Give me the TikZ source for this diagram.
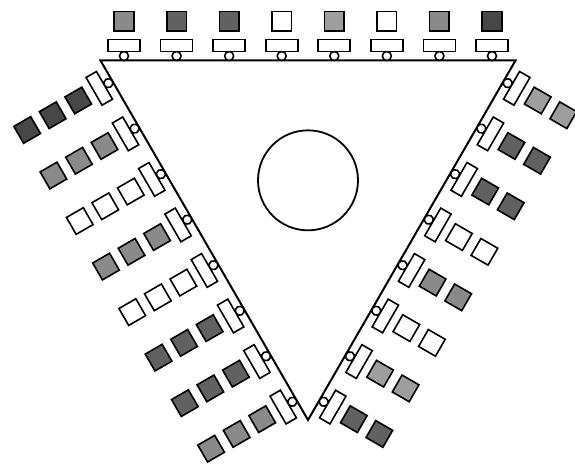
\documentclass[tikz,border=0pt]{standalone}
\usepackage{xcolor}
\usepackage{tikz}
\usetikzlibrary{calc}

\colorlet{deep}{black!72}
\colorlet{dark}{black!62}
\colorlet{mid}{black!46}
\colorlet{light}{black!38}

\begin{document}
\begin{tikzpicture}[x=1pt, y=1pt, edge/.style={line width=2pt, line join=miter}, wheel/.style={draw, line width=1.6pt, fill=white}, cart/.style={draw, line width=1.6pt, fill=white}, crate/.style={draw, line width=1.6pt}]
\useasboundingbox (0,0) rectangle (575,471);
\coordinate (A) at (100.5,410.5);
\coordinate (B) at (515.5,410.5);
\coordinate (C) at (308,51);
\draw[edge] (A) -- (B) -- (C) -- cycle;
\node[draw, circle, line width=1.8pt, minimum size=100pt, inner sep=0pt] (hub) at (barycentric cs:A=1,B=1,C=1) {};

% top side, one crate per cart
\foreach \c [count=\k from 0, evaluate=\k as \d using 23.5+52.57*\k] in {mid,dark,dark,white,light,white,mid,deep} {
  \begin{scope}[shift={($(A)!\d pt!(B)$)}]
    \draw[wheel] (0,4.5) circle (4.5);
    \draw[cart] (-16,9) rectangle (16,21);
    \draw[crate, fill=\c] (-9.75,29.5) rectangle (9.75,49);
  \end{scope}
}

% left side, three crates per cart
\foreach \c [count=\k from 0, evaluate=\k as \d using 23.5+52.57*\k] in {deep,mid,white,mid,white,dark,dark,mid} {
  \begin{scope}[shift={($(A)!\d pt!(C)$)}, rotate=120]
    \draw[wheel] (0,4.5) circle (4.5);
    \draw[cart] (-16,9) rectangle (16,21);
    \foreach \j in {0,1,2}
      \draw[crate, fill=\c] (-9.75,29.5+29.5*\j) rectangle (9.75,49+29.5*\j);
  \end{scope}
}

% right side, two crates per cart
\foreach \c [count=\k from 0, evaluate=\k as \d using 23.5+52.57*\k] in {light,dark,dark,white,mid,white,light,dark} {
  \begin{scope}[shift={($(B)!\d pt!(C)$)}, rotate=-120]
    \draw[wheel] (0,4.5) circle (4.5);
    \draw[cart] (-16,9) rectangle (16,21);
    \foreach \j in {0,1}
      \draw[crate, fill=\c] (-9.75,29.5+29.5*\j) rectangle (9.75,49+29.5*\j);
  \end{scope}
}
\end{tikzpicture}
\end{document}
